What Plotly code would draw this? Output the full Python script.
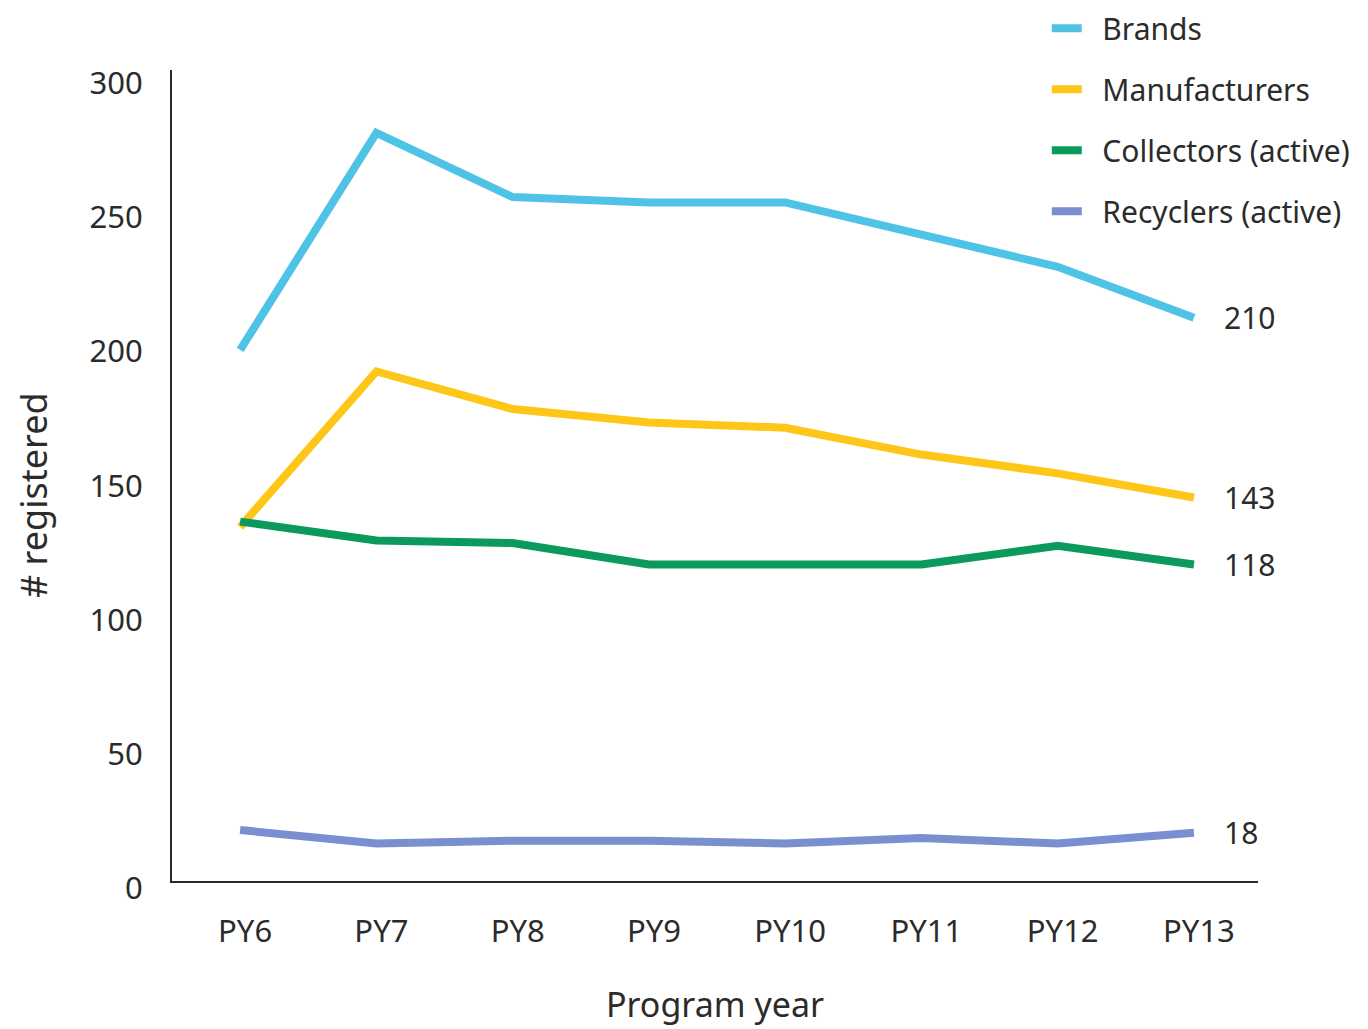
import plotly.graph_objects as go

years = ["PY6", "PY7", "PY8", "PY9", "PY10", "PY11", "PY12", "PY13"]
brands = [198, 279, 255, 253, 253, 241, 229, 210]
manufacturers = [132, 190, 176, 171, 169, 159, 152, 143]
collectors = [134, 127, 126, 118, 118, 118, 125, 118]
recyclers = [19, 14, 15, 15, 14, 16, 14, 18]

series = [
    ("Brands", brands, "#4FC3E6"),
    ("Manufacturers", manufacturers, "#FFC61A"),
    ("Collectors (active)", collectors, "#0B9A5C"),
    ("Recyclers (active)", recyclers, "#7B8FD0"),
]

FONT = "Noto Sans"
TXT = "#2b2b2b"

fig = go.Figure()
for i, (name, vals, col) in enumerate(series):
    fig.add_trace(go.Scatter(
        x=years, y=vals, mode="lines", name="\u00a0\u00a0" + name,
        line=dict(color=col, width=8), legendgroup=name,
    ))
    fig.add_annotation(
        x=years[-1], y=vals[-1], xref="x", yref="y",
        text=str(vals[-1]), showarrow=False, xanchor="left", xshift=28,
        font=dict(family=FONT, size=30, color=TXT),
    )

# y-axis title as a rotated annotation (positioned slightly below centre)
fig.add_annotation(
    x=-0.127, y=0.476, xref="paper", yref="paper",
    text="# registered", showarrow=False, textangle=-90,
    xanchor="center", yanchor="middle",
    font=dict(family=FONT, size=36, color=TXT),
)

fig.update_layout(
    width=1368, height=1029,
    margin=dict(l=164, r=118, t=62, b=156, autoexpand=False),
    paper_bgcolor="white", plot_bgcolor="white",
    font=dict(family=FONT, size=30, color=TXT),
    showlegend=True,
    legend=dict(
        x=0.8055, y=1.0835, xanchor="left", yanchor="top",
        font=dict(family=FONT, size=30, color=TXT),
        tracegroupgap=19, itemwidth=30, bgcolor="rgba(0,0,0,0)",
    ),
    xaxis=dict(
        type="category", range=[-0.5, 7.47], showgrid=False,
        showline=True, linecolor="#2a2a2a", linewidth=2,
        ticks="", ticklabelshift=5, ticklabelstandoff=22,
        tickfont=dict(family=FONT, size=31, color=TXT),
        title=dict(text="Program year", standoff=43,
                   font=dict(family=FONT, size=34, color=TXT)),
    ),
    yaxis=dict(
        range=[0, 302.4], showgrid=False, zeroline=False,
        showline=True, linecolor="#2a2a2a", linewidth=2,
        tickvals=[0, 50, 100, 150, 200, 250, 300], ticks="",
        ticklabelshift=7,
        tickfont=dict(family=FONT, size=31, color=TXT), ticklabelstandoff=21,
    ),
)

fig.write_html("out.html")
